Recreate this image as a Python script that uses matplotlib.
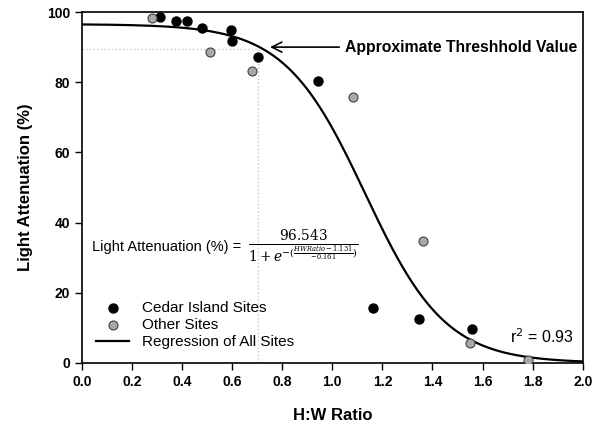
import numpy as np
import matplotlib.pyplot as plt

plt.rcParams['font.family'] = ['Liberation Sans', 'DejaVu Sans']

# Cedar Island sites (black)
cedar_x = [0.311, 0.375, 0.419, 0.479, 0.595, 0.601, 0.703, 0.941, 1.164, 1.348, 1.557]
cedar_y = [98.7, 97.4, 97.4, 95.4, 94.9, 91.8, 87.1, 80.4, 15.6, 12.4, 9.7]

# other sites (grey)
other_x = [0.281, 0.512, 0.681, 1.084, 1.361, 1.548, 1.781]
other_y = [98.2, 88.7, 83.3, 75.9, 34.8, 5.6, 0.85]

# regression parameters
a, x0, b = 96.543, 1.131, -0.161
thresh_x, thresh_y = 0.705, 89.6

fig = plt.figure(figsize=(5.94, 4.29), dpi=100)
ax = fig.add_axes([0.138, 0.154, 0.843, 0.818])

xs = np.linspace(0, 2.0, 400)
ys = a / (1 + np.exp(-(xs - x0) / b))

ax.plot([0, thresh_x], [thresh_y, thresh_y], color='#c8c8c8', ls=':', lw=1, zorder=1)
ax.plot([thresh_x, thresh_x], [0, thresh_y], color='#c8c8c8', ls=':', lw=1, zorder=1)

ax.scatter(cedar_x, cedar_y, s=42, color='black', zorder=3, label='Cedar Island Sites')
ax.scatter(other_x, other_y, s=42, color='#a8a8a8', edgecolor='#404040', lw=0.8, zorder=3,
           label='Other Sites')
ax.plot(xs, ys, color='black', lw=1.6, zorder=2, label='Regression of All Sites')

ax.annotate('Approximate Threshhold Value', xy=(0.74, 90.0), xytext=(1.05, 90.0),
            fontsize=11.3, fontweight='bold', va='center',
            arrowprops=dict(arrowstyle='->', color='black', lw=1.2, mutation_scale=18))

ax.text(0.04, 33, 'Light Attenuation (%) =', fontsize=10.5, va='center')
ax.text(0.665, 33, r'$\frac{96.543}{1+e^{-(\frac{HWRatio-1.131}{-0.161})}}$',
        fontsize=14, va='center', math_fontfamily='dejavuserif')

ax.text(1.71, 7.5, r'r$^2$ = 0.93', fontsize=11.5, va='center')

ax.legend(loc='lower left', bbox_to_anchor=(0.0, 0.0), frameon=False, fontsize=11,
          handlelength=2.2, labelspacing=0.2, borderaxespad=0.5)

ax.set_xlim(0, 2.0)
ax.set_ylim(0, 100)
ax.set_xticks(np.arange(0, 2.01, 0.2))
ax.set_yticks(np.arange(0, 101, 20))
ax.set_xticklabels([f'{v:.1f}' for v in np.arange(0, 2.01, 0.2)])
for lab in ax.get_xticklabels() + ax.get_yticklabels():
    lab.set_fontweight('bold')
    lab.set_fontsize(10)
ax.tick_params(direction='out', length=5, width=1)
ax.set_xlabel('H:W Ratio', fontsize=12, fontweight='bold', labelpad=14)
ax.set_ylabel('Light Attenuation (%)', fontsize=12, fontweight='bold', labelpad=10)
for s in ax.spines.values():
    s.set_linewidth(1.2)

fig.savefig('out.png', dpi=100)
